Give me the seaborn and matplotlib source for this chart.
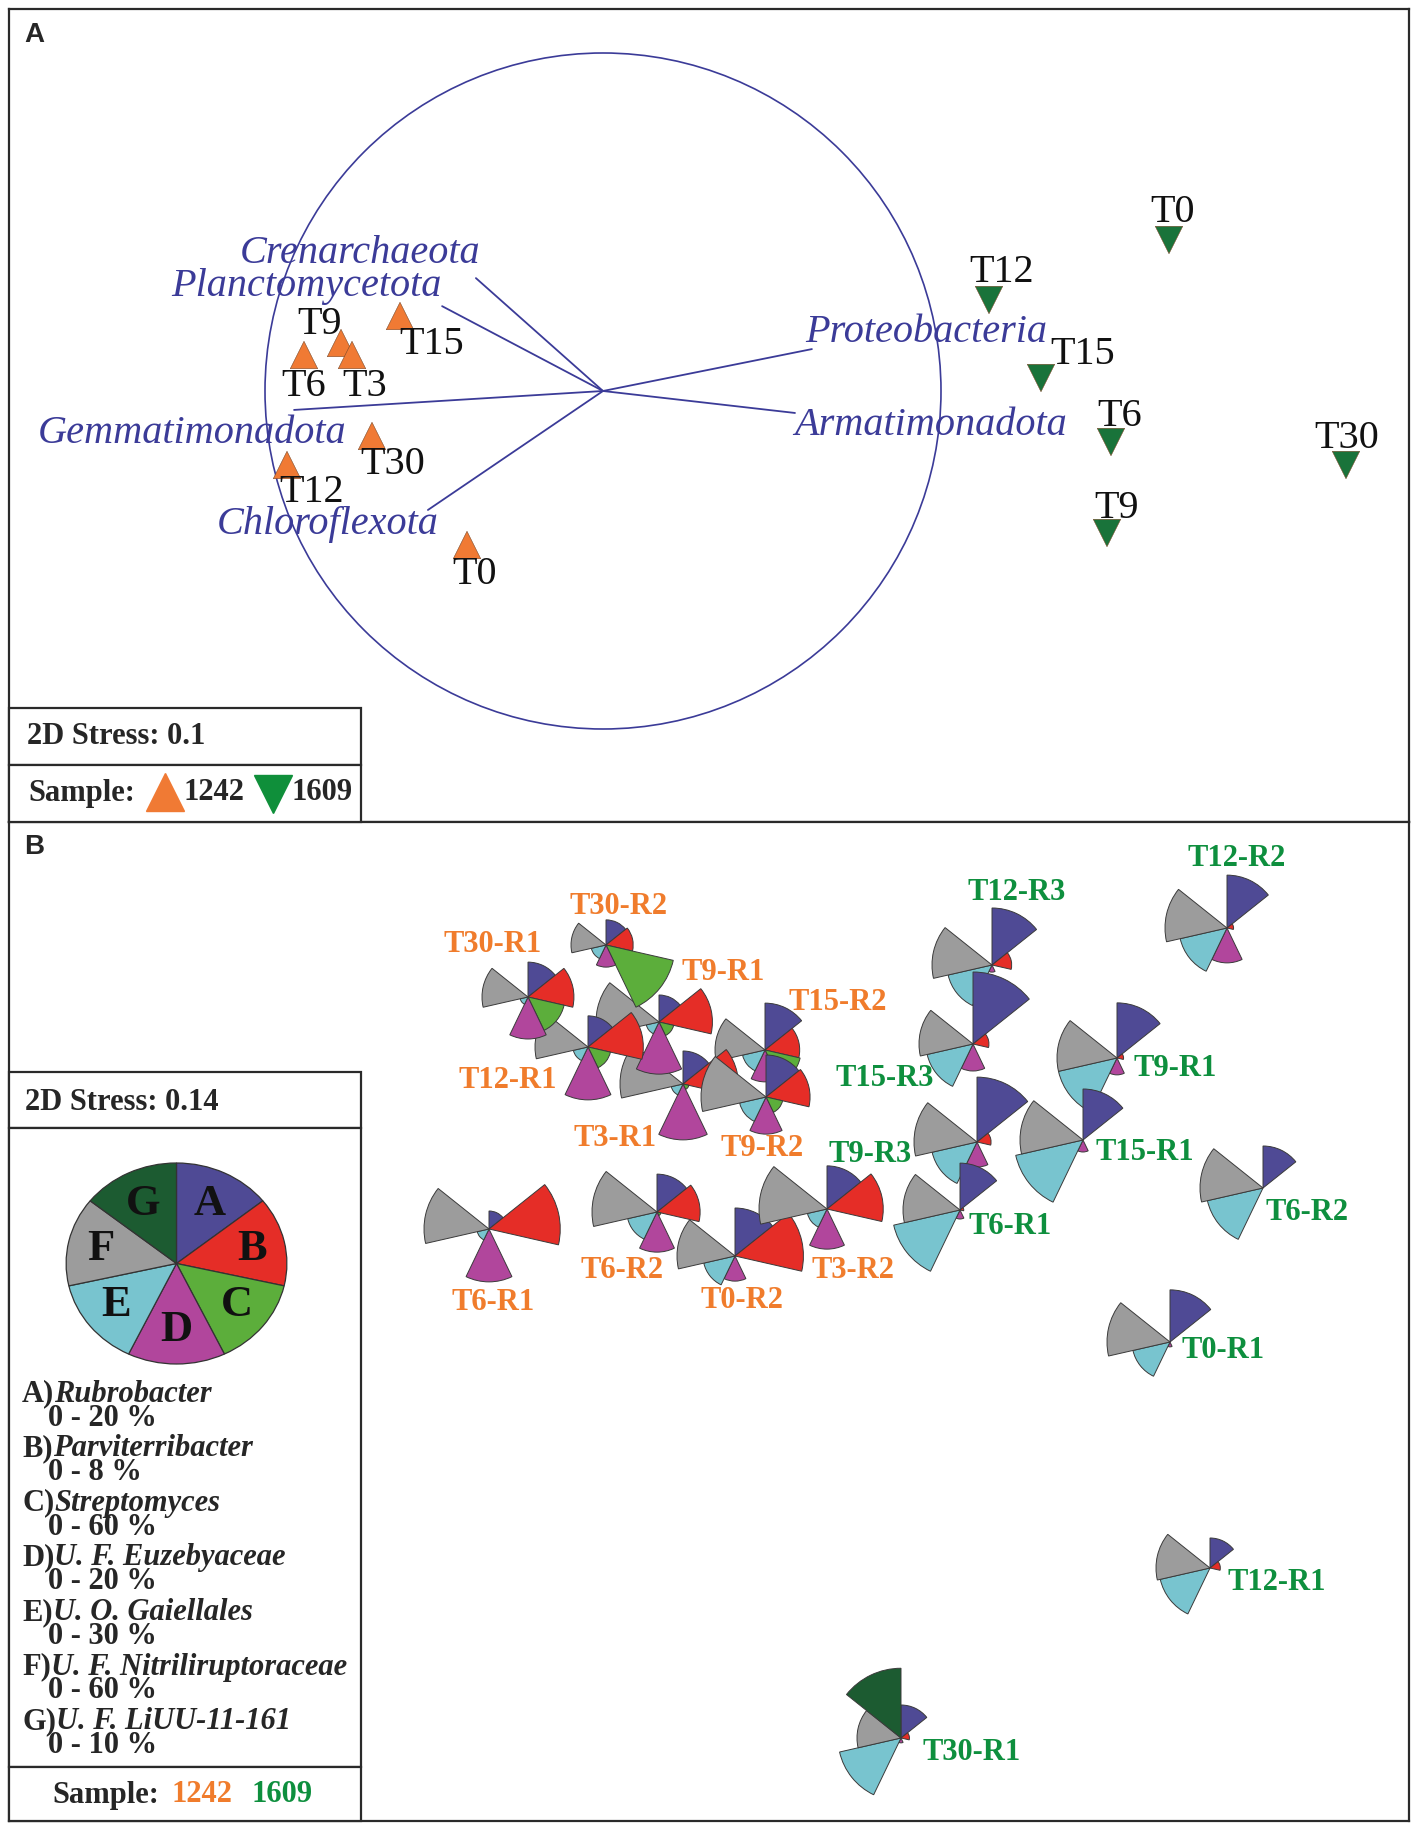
import numpy as np
import pandas as pd
import matplotlib
matplotlib.use("Agg")
import matplotlib.pyplot as plt
import seaborn as sns
from matplotlib.patches import Wedge, Circle, Rectangle
from matplotlib.lines import Line2D
from matplotlib.text import Annotation

# ------------------------------------------------------------------ data
# Panel A : nMDS of sites with vector overlay
a_site = ["1242"] * 7 + ["1609"] * 6
a_time = ["T9", "T6", "T3", "T15", "T30", "T12", "T0",
          "T0", "T12", "T15", "T6", "T30", "T9"]
a_x = [-3.68, -4.05, -3.57, -3.09, -3.37, -4.22, -2.42,
       4.60, 2.80, 3.32, 4.02, 6.37, 3.98]
a_y = [0.725, 0.605, 0.605, 0.995, -0.205, -0.495, -1.295,
       1.755, 1.155, 0.375, -0.265, -0.495, -1.175]

vec_names = ["Crenarchaeota", "Planctomycetota", "Proteobacteria",
             "Armatimonadota", "Gemmatimonadota", "Chloroflexota"]
vec_x = [-0.376, -0.476, 0.618, 0.568, -0.914, -0.518]
vec_y = [0.334, 0.251, 0.124, -0.065, -0.056, -0.352]
circle_cx, circle_cy, circle_r = -1.06, 0.245, 3.38

# Panel B : segmented bubble nMDS (genus abundance, %)
taxa_letters = ["A", "B", "C", "D", "E", "F", "G"]
taxa_names = ["Rubrobacter", "Parviterribacter", "Streptomyces",
              "U. F. Euzebyaceae", "U. O. Gaiellales",
              "U. F. Nitriliruptoraceae", "U. F. LiUU-11-161"]
taxa_max = [20, 8, 60, 20, 30, 60, 10]

b_label = ["T15-R2", "T3-R1", "T9-R1", "T12-R1", "T30-R1", "T30-R2", "T9-R2",
           "T6-R1", "T6-R2", "T0-R2", "T3-R2",
           "T12-R3", "T15-R3", "T9-R1", "T15-R1", "T9-R3", "T6-R1",
           "T12-R2", "T6-R2", "T0-R1", "T12-R1", "T30-R1"]
b_site = ["1242"] * 11 + ["1609"] * 11
b_x = [0.56, -0.26, -0.50, -1.21, -1.81, -1.03, 0.57, -2.20, -0.52, 0.26, 1.18,
       2.83, 2.64, 4.08, 3.74, 2.68, 2.51, 5.18, 5.54, 4.61, 5.01, 1.92]
b_y = [2.71, 2.37, 2.99, 2.74, 3.24, 3.76, 2.24, 0.92, 1.09, 0.65, 1.12,
       3.56, 2.77, 2.63, 1.81, 1.79, 1.11, 3.93, 1.33, -0.21, -2.47, -4.17]
b_A = [12.5, 8.8, 7.2, 8.3, 9.3, 6.7, 11.2, 4.8, 10.1, 12.8, 11.5,
       15.2, 19.2, 14.7, 13.6, 17.3, 12.5, 14.1, 11.2, 13.9, 8.0, 8.8]
b_B = [3.7, 5.9, 5.7, 5.9, 4.9, 2.9, 4.7, 7.6, 4.6, 7.3, 6.0,
       2.1, 1.7, 0.7, 0.0, 1.5, 0.4, 0.7, 0.0, 0.0, 1.1, 0.9]
b_C = [28.8, 4.8, 12.0, 18.4, 29.6, 55.2, 13.6, 0.0, 3.2, 0.0, 0.0,
       0, 0, 0, 0, 0, 0, 0, 0, 0, 0, 0]
b_D = [8.5, 14.9, 13.9, 14.1, 11.2, 5.9, 9.9, 14.1, 10.7, 6.7, 10.7,
       1.9, 7.2, 4.5, 3.2, 6.7, 2.4, 9.3, 0.0, 1.3, 0.0, 1.3]
b_E = [9.2, 4.8, 5.2, 6.0, 3.2, 6.0, 10.8, 4.8, 12.0, 12.8, 8.0,
       18.0, 18.8, 24.0, 27.6, 18.4, 27.2, 19.2, 22.8, 15.2, 20.4, 25.2]
b_F = [40.0, 50.4, 50.4, 42.4, 36.8, 28.0, 52.0, 52.0, 52.0, 46.4, 54.4,
       48.0, 43.2, 48.0, 50.4, 50.4, 45.6, 49.6, 50.4, 50.4, 43.2, 35.2]
b_G = [0, 0, 0, 0, 0, 0, 0, 0, 0, 0, 0,
       0, 0, 0, 0, 0, 0, 0, 0, 0, 0, 9.3]

# ------------------------------------------------------------------ layout / style
W, H = 1418, 1830
SERIF = ["Liberation Serif", "DejaVu Serif"]
SANS = ["Liberation Sans", "DejaVu Sans"]
taxa_colors = ["#4f4a95", "#e52d27", "#5cae3b", "#b1469c", "#78c4cf", "#9c9c9c", "#1c5b31"]
vec_color = "#3b3b98"
site_marker_colors = {"1242": "#f07a34", "1609": "#19733a"}
site_text_colors = {"1242": "#f07c2c", "1609": "#0e8f3e"}
RMAX = 0.75  # full-scale segment radius (data units)

# label offsets in pixels (dx, dy with y downward)
a_lab_off = [(-21, -18), (0, 31), (13, 31), (32, 29), (21, 29), (25, 28), (8, 30),
             (4, -27), (13, -28), (42, -23), (9, -25), (1, -27), (10, -25)]
vec_lab = [("right", 4, -25), ("right", -1, -20), ("left", -7, -17),
           ("left", -1, 13), ("right", 52, 24), ("right", 11, 15)]
b_lab_off = [(73, -48), (-68, 54), (64, -49), (-80, 33), (-35, -52), (12, -38), (-4, 51),
             (4, 73), (-35, 59), (7, 45), (26, 62),
             (25, -72), (-88, 34), (58, 11), (62, 12), (-107, 13), (50, 17),
             (10, -70), (44, 24), (53, 8), (67, 14), (71, 14)]

sns.set_theme(style="white")
plt.rcParams["font.family"] = SERIF

fig = plt.figure(figsize=(W / 100, H / 100), dpi=100)
fig.patch.set_facecolor("white")


def fx(px):
    return px / W


def fy(py):
    return 1 - py / H


def ftext(px, py, s, **kw):
    return fig.text(fx(px), fy(py), s, **kw)


def frame(ax):
    ax.set_xticks([])
    ax.set_yticks([])
    ax.set_xlabel("")
    ax.set_ylabel("")
    for sp in ax.spines.values():
        sp.set_visible(True)
        sp.set_color("#2a2a2a")
        sp.set_linewidth(1.6)


# ------------------------------------------------------------------ panel A
axA = fig.add_axes([fx(9), fy(822), 1400 / W, 813 / H])
axA.set_xlim(-7, 7)
axA.set_ylim(-4.065, 4.065)

axA.add_patch(Circle((circle_cx, circle_cy), circle_r, fill=False,
                     edgecolor=vec_color, lw=1.2, zorder=1))
for name, vx, vy, (ha, dx, dy) in zip(vec_names, vec_x, vec_y, vec_lab):
    ex, ey = circle_cx + vx * circle_r, circle_cy + vy * circle_r
    axA.plot([circle_cx, ex], [circle_cy, ey], color=vec_color, lw=1.3, zorder=2)
    axA.annotate(name, (ex, ey), xytext=(dx, -dy), textcoords="offset pixels",
                 ha=ha, va="center", fontsize=29, style="italic",
                 color=vec_color, family=SERIF, zorder=3)

dfA = pd.DataFrame({"x": a_x, "y": a_y, "site": a_site, "time": a_time})
sns.scatterplot(data=dfA, x="x", y="y", hue="site", style="site",
                markers={"1242": "^", "1609": "v"}, palette=site_marker_colors,
                s=390, edgecolor="#7a4a2a", linewidth=0.4, legend=False,
                ax=axA, zorder=4)
for (x, y, t), (dx, dy) in zip(zip(a_x, a_y, a_time), a_lab_off):
    axA.annotate(t, (x, y), xytext=(dx, -dy), textcoords="offset pixels",
                 ha="center", va="center", fontsize=29, color="#111111",
                 family=SERIF, zorder=5)
frame(axA)

# ------------------------------------------------------------------ panel B
axB = fig.add_axes([fx(9), fy(1821), 1400 / W, 999 / H])
axB.set_xlim(-7, 7)
axB.set_ylim(-5.0, 4.99)
step = 360 / 7
vals = list(zip(b_A, b_B, b_C, b_D, b_E, b_F, b_G))
for i in range(len(b_x)):
    for k, v in enumerate(vals[i]):
        if v <= 0:
            continue
        r = v / taxa_max[k] * RMAX
        th2 = 90 - k * step
        axB.add_patch(Wedge((b_x[i], b_y[i]), r, th2 - step, th2,
                            facecolor=taxa_colors[k], edgecolor="#3a3a3a",
                            lw=0.7, zorder=2 + i * 0.01))
for i in range(len(b_x)):
    dx, dy = b_lab_off[i]
    axB.annotate(b_label[i], (b_x[i], b_y[i]), xytext=(dx, -dy),
                 textcoords="offset pixels", ha="center", va="center",
                 fontsize=22, fontweight="bold", color=site_text_colors[b_site[i]],
                 family=SERIF, zorder=10)
frame(axB)

# ------------------------------------------------------------------ panel letters
ftext(24, 35, "A", fontsize=20, fontweight="bold", family=SANS, va="center", ha="left")
ftext(24, 847, "B", fontsize=20, fontweight="bold", family=SANS, va="center", ha="left")


def fbox(x0, y0, x1, y1):
    fig.add_artist(Rectangle((fx(x0), fy(y1)), (x1 - x0) / W, (y1 - y0) / H,
                             transform=fig.transFigure, facecolor="white",
                             edgecolor="#2a2a2a", lw=1.6, zorder=5))


# panel A legend boxes
fbox(9, 708, 361, 765)
fbox(9, 765, 361, 822)
ftext(27, 737, "2D Stress: 0.1", fontsize=22, fontweight="bold", va="center",
      ha="left", family=SERIF, zorder=6)
ftext(28, 793, "Sample:", fontsize=22, fontweight="bold", va="center",
      ha="left", family=SERIF, zorder=6)
fig.add_artist(Line2D([fx(165)], [fy(792)], marker="^", ms=27, lw=0,
                      color=site_marker_colors["1242"], transform=fig.transFigure,
                      zorder=6))
ftext(184, 793, "1242", fontsize=22, fontweight="bold", va="center", ha="left",
      family=SERIF, zorder=6)
fig.add_artist(Line2D([fx(273)], [fy(794)], marker="v", ms=27, lw=0,
                      color="#0f8f3a", transform=fig.transFigure, zorder=6))
ftext(292, 793, "1609", fontsize=22, fontweight="bold", va="center", ha="left",
      family=SERIF, zorder=6)

# panel B legend boxes
fbox(9, 1072, 361, 1128)
fbox(9, 1128, 361, 1767)
fbox(9, 1767, 361, 1821)
ftext(25, 1102, "2D Stress: 0.14", fontsize=22, fontweight="bold", va="center",
      ha="left", family=SERIF, zorder=6)

# key pie
axK = fig.add_axes([fx(65), fy(1365), 223 / W, 203 / H], zorder=10)
axK.pie([1] * 7, colors=taxa_colors, startangle=90, counterclock=False,
        wedgeprops=dict(edgecolor="#333333", linewidth=0.9))
axK.set_aspect("auto")
axK.set_xlim(-1.01, 1.01)
axK.set_ylim(-1.01, 1.01)
axK.axis("off")
for k, let in enumerate(taxa_letters):
    ang = np.deg2rad(90 - (k + 0.5) * step)
    axK.text(0.70 * np.cos(ang), 0.66 * np.sin(ang), let, ha="center",
             va="center", fontsize=32, fontweight="bold", color="#111111",
             family=SERIF)

for k in range(7):
    yk = 1394 + k * 54.6
    t1 = ftext(22, yk, f"{taxa_letters[k]})", fontsize=22, fontweight="bold",
               va="center", ha="left", family=SERIF, zorder=6)
    an = Annotation(taxa_names[k], xy=(1, 0), xycoords=t1, va="bottom", ha="left",
                    fontsize=22, fontweight="bold", style="italic", family=SERIF,
                    zorder=6)
    fig.add_artist(an)
    ftext(48, yk + 24, f"0 - {taxa_max[k]} %", fontsize=22, fontweight="bold",
          va="center", ha="left", family=SERIF, zorder=6)

ftext(52, 1795, "Sample:", fontsize=22, fontweight="bold", va="center", ha="left",
      family=SERIF, zorder=6)
ftext(172, 1795, "1242", fontsize=22, fontweight="bold", va="center", ha="left",
      color=site_text_colors["1242"], family=SERIF, zorder=6)
ftext(251, 1795, "1609", fontsize=22, fontweight="bold", va="center", ha="left",
      color=site_text_colors["1609"], family=SERIF, zorder=6)

fig.savefig("out.png", dpi=100, facecolor="white")
